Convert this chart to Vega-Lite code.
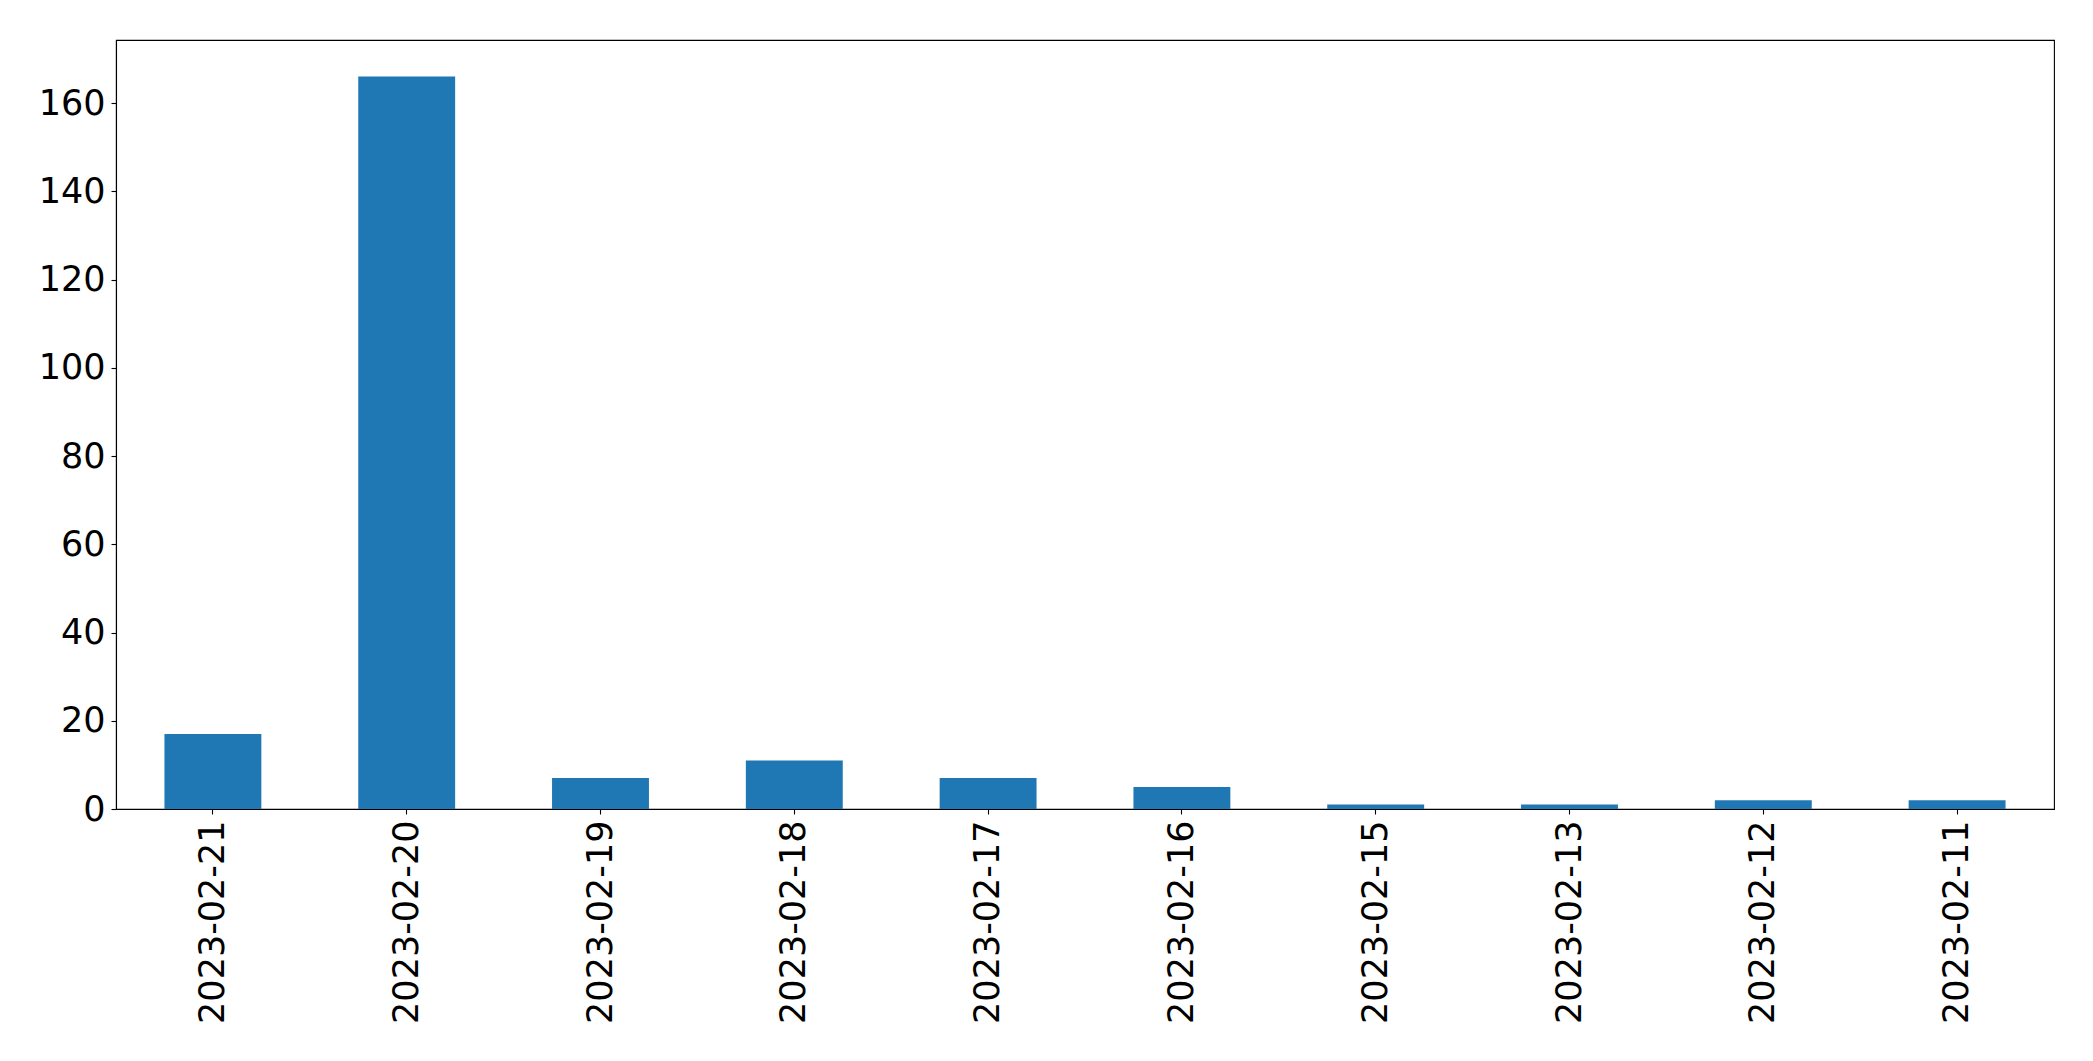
{
  "$schema": "https://vega.github.io/schema/vega-lite/v6.json",
  "autosize": {"type": "none"},
  "padding": {"left": 116, "top": 40, "right": 39, "bottom": 252},
  "width": 1938,
  "height": 769,
  "background": "white",
  "config": {
    "view": {"stroke": "black", "strokeWidth": 1.1},
    "axis": {
      "grid": false,
      "domainColor": "black",
      "domainWidth": 1.1,
      "tickColor": "black",
      "tickWidth": 1.1,
      "tickSize": 5,
      "labelFont": "DejaVu Sans",
      "labelFontSize": 35,
      "labelColor": "black",
      "labelPadding": 6,
      "labelLimit": 0,
      "title": null
    }
  },
  "data": {
    "values": [
      {"date": "2023-02-21", "count": 17},
      {"date": "2023-02-20", "count": 166},
      {"date": "2023-02-19", "count": 7},
      {"date": "2023-02-18", "count": 11},
      {"date": "2023-02-17", "count": 7},
      {"date": "2023-02-16", "count": 5},
      {"date": "2023-02-15", "count": 1},
      {"date": "2023-02-13", "count": 1},
      {"date": "2023-02-12", "count": 2},
      {"date": "2023-02-11", "count": 2}
    ]
  },
  "mark": {"type": "bar", "color": "#1f77b4"},
  "encoding": {
    "x": {
      "field": "date",
      "type": "nominal",
      "sort": null,
      "scale": {"paddingInner": 0.5, "paddingOuter": 0.25},
      "axis": {"labelAngle": -90, "labelBaseline": "middle", "labelAlign": "right", "labelLimit": 0}
    },
    "y": {
      "field": "count",
      "type": "quantitative",
      "scale": {"domain": [0, 174.3], "nice": false, "zero": true},
      "axis": {"values": [0, 20, 40, 60, 80, 100, 120, 140, 160]}
    }
  }
}
